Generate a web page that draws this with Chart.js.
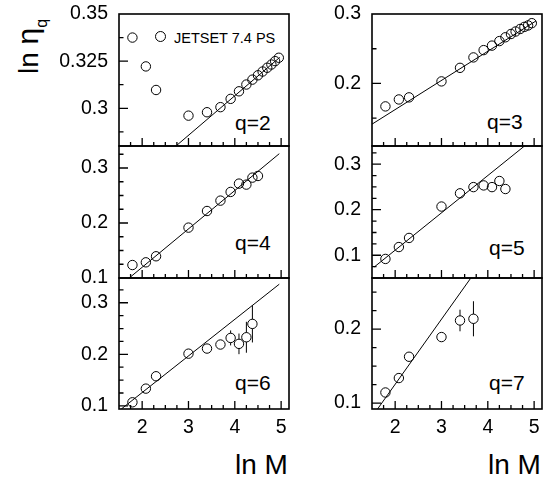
<!DOCTYPE html>
<html>
<head>
<meta charset="utf-8">
<script src="https://cdn.jsdelivr.net/npm/chart.js@4.4.1/dist/chart.umd.min.js"></script>
<style>
  html, body { margin: 0; padding: 0; background: #fff; }
  body { width: 545px; height: 483px; position: relative; overflow: hidden;
         font-family: 'Liberation Sans', Arial, sans-serif; color: #000; }
  .lbl { position: absolute; white-space: nowrap; line-height: 1; }
  .ytitle { position: absolute; left: 13px; top: 74px; white-space: nowrap; line-height: 1;
            font-size: 28px; transform-origin: 0 0; transform: rotate(-90deg); }
  .mark { position: absolute; box-sizing: border-box; border: 1px solid #000; border-radius: 50%; }
</style>
</head>
<body>

<div class="ytitle">ln&nbsp;<span style="font-size:30px">η</span><span style="font-size:16px;position:relative;top:9px">q</span></div>

<div class="mark" style="left:155px;top:31px;width:11.4px;height:11.4px"></div>
<div class="lbl" style="left:174px;top:30.5px;font-size:14.5px">JETSET 7.4 PS</div>

<div class="lbl" style="left:235px;top:111.5px;font-size:21px">q=2</div>
<div class="lbl" style="left:487px;top:110.5px;font-size:21px">q=3</div>
<div class="lbl" style="left:235px;top:232px;font-size:21px">q=4</div>
<div class="lbl" style="left:489px;top:236.5px;font-size:21px">q=5</div>
<div class="lbl" style="left:235px;top:371.5px;font-size:21px">q=6</div>
<div class="lbl" style="left:489px;top:372px;font-size:21px">q=7</div>

<div class="lbl" style="left:235px;top:451px;font-size:28px">ln M</div>
<div class="lbl" style="left:488px;top:451px;font-size:28px">ln M</div>

<script>
// ln M values of the points (same bins in every panel)
const lnM = [1.79, 2.08, 2.30, 3.00, 3.40, 3.69, 3.91, 4.09, 4.25, 4.38, 4.50, 4.60, 4.70, 4.79, 4.87, 4.95];

// ln eta_q per moment order
const etaQ2 = [0.3375, 0.3222, 0.3097, 0.2961, 0.2979, 0.3006, 0.3050, 0.3090, 0.3126, 0.3152, 0.3175, 0.3195, 0.3215, 0.3232, 0.3250, 0.3268];
const etaQ3 = [0.167, 0.177, 0.180, 0.203, 0.2225, 0.2375, 0.248, 0.2545, 0.261, 0.2665, 0.2712, 0.2748, 0.2785, 0.2815, 0.2835, 0.2868];
const etaQ4 = [0.1236, 0.1285, 0.1395, 0.1916, 0.2218, 0.2407, 0.2565, 0.2716, 0.2698, 0.2825, 0.2855];
const etaQ5 = [0.0919, 0.118, 0.138, 0.207, 0.236, 0.2497, 0.2534, 0.2497, 0.2631, 0.2455];
const etaQ6 = [0.107, 0.1335, 0.1575, 0.2013, 0.2112, 0.219, 0.2318, 0.2203, 0.2331, 0.259];
const etaQ7 = [0.1143, 0.1338, 0.1626, 0.1892, 0.2116, 0.2139];

// error bars (only the large ones are visible)
const errQ6 = [0, 0, 0, 0, 0, 0, 0.0145, 0.020, 0.030, 0.036];
const errQ7 = [0, 0, 0, 0, 0.0146, 0.0237];

// straight fit lines, end points
const fitXQ2 = [2.73, 4.97], fitYQ2 = [0.280, 0.327];
const fitXQ3 = [1.49, 5.04], fitYQ3 = [0.141, 0.290];
const fitXQ4 = [1.72, 4.96], fitYQ4 = [0.100, 0.326];
const fitXQ5 = [1.55, 4.78], fitYQ5 = [0.0743, 0.339];
const fitXQ6 = [1.55, 4.96], fitYQ6 = [0.094, 0.336];
const fitXQ7 = [1.62, 3.645], fitYQ7 = [0.092, 0.270];

const xRange = [1.5, 5.17];

const panels = [
    { col: 0, row: 0, y: etaQ2, fx: fitXQ2, fy: fitYQ2, yMin: 0.28, yMax: 0.35, major: 0.025, minor: 0.0125 },
    { col: 1, row: 0, y: etaQ3, fx: fitXQ3, fy: fitYQ3, yMin: 0.11, yMax: 0.30, major: 0.1, minor: 0.05 },
    { col: 0, row: 1, y: etaQ4, fx: fitXQ4, fy: fitYQ4, yMin: 0.10, yMax: 0.34, major: 0.1, minor: 0.025 },
    { col: 1, row: 1, y: etaQ5, fx: fitXQ5, fy: fitYQ5, yMin: 0.05, yMax: 0.34, major: 0.1, minor: 0.025 },
    { col: 0, row: 2, y: etaQ6, fx: fitXQ6, fy: fitYQ6, err: errQ6, yMin: 0.094, yMax: 0.348, major: 0.1, minor: 0.025 },
    { col: 1, row: 2, y: etaQ7, fx: fitXQ7, fy: fitYQ7, err: errQ7, yMin: 0.092, yMax: 0.269, major: 0.1, minor: 0.025 }
];

const FONT = "'Liberation Sans', Arial, sans-serif";
const colLeft = [119, 372];
const rowTop = [14, 146, 278];
const rowBottom = [146, 278, 409];
const AXIS_W = 110, PAD = 12, PLOT_W = 170, XAXIS_H = 30;

const isMajor = (v, step) => Math.abs(v / step - Math.round(v / step)) < 1e-6;

// frame, inward tick marks and error bars
const frameTicks = {
    id: 'frameTicks',
    afterDraw(chart, args, opts) {
        const { ctx, chartArea: a, scales: { x, y } } = chart;
        ctx.save();
        ctx.strokeStyle = '#000';
        ctx.lineWidth = 1.3;
        ctx.beginPath();
        y.ticks.forEach(t => {
            const py = y.getPixelForValue(t.value);
            if (py < a.top + 1 || py > a.bottom - 1) return;
            const len = isMajor(t.value, opts.major) ? 9 : 4.5;
            ctx.moveTo(a.left, py);
            ctx.lineTo(a.left + len, py);
        });
        x.ticks.forEach(t => {
            const px = x.getPixelForValue(t.value);
            if (px < a.left + 1 || px > a.right - 1) return;
            const len = isMajor(t.value, 1) ? 8 : 4;
            ctx.moveTo(px, a.bottom);
            ctx.lineTo(px, a.bottom - len);
        });
        ctx.stroke();

        ctx.lineWidth = 1;
        chart.data.datasets.forEach(ds => {
            if (!ds.errors) return;
            const r = ds.pointRadius;
            ds.data.forEach((p, j) => {
                const e = ds.errors[j];
                if (!e) return;
                const px = x.getPixelForValue(p.x);
                const cy = y.getPixelForValue(p.y);
                const top = y.getPixelForValue(p.y + e);
                const bot = y.getPixelForValue(p.y - e);
                ctx.beginPath();
                ctx.moveTo(px, top);
                ctx.lineTo(px, cy - r);
                ctx.moveTo(px, cy + r);
                ctx.lineTo(px, bot);
                ctx.stroke();
            });
        });

        ctx.lineWidth = 1.6;
        ctx.strokeRect(a.left, a.top, a.right - a.left, a.bottom - a.top);
        ctx.restore();
    }
};

panels.forEach(p => {
    const bottomRow = p.row === 2;
    const plotH = rowBottom[p.row] - rowTop[p.row];
    const w = AXIS_W + PLOT_W + 4;
    const h = PAD + plotH + (bottomRow ? XAXIS_H : PAD);

    const canvas = document.createElement('canvas');
    canvas.width = w;
    canvas.height = h;
    canvas.style.cssText = `position:absolute;left:${colLeft[p.col] - AXIS_W}px;top:${rowTop[p.row] - PAD}px;width:${w}px;height:${h}px`;
    document.body.appendChild(canvas);

    const points = p.y.map((v, i) => ({ x: lnM[i], y: v }));
    const fit = p.fx.map((v, i) => ({ x: v, y: p.fy[i] }));

    new Chart(canvas, {
        type: 'scatter',
        data: {
            datasets: [
                {
                    data: fit,
                    showLine: true,
                    borderColor: '#000',
                    borderWidth: 1,
                    pointRadius: 0,
                    fill: false
                },
                {
                    data: points,
                    showLine: false,
                    pointStyle: 'circle',
                    pointRadius: 4.7,
                    borderWidth: 1,
                    borderColor: '#000',
                    backgroundColor: 'rgba(0,0,0,0)',
                    errors: p.err
                }
            ]
        },
        options: {
            responsive: false,
            animation: false,
            devicePixelRatio: 1,
            events: [],
            layout: { autoPadding: false, padding: { top: PAD, right: 4, bottom: bottomRow ? 0 : PAD, left: 0 } },
            plugins: {
                legend: { display: false },
                tooltip: { enabled: false },
                frameTicks: { major: p.major }
            },
            scales: {
                x: {
                    type: 'linear',
                    min: xRange[0],
                    max: xRange[1],
                    grid: { display: false, drawTicks: false },
                    border: { display: false },
                    ticks: {
                        stepSize: 0.25,
                        includeBounds: false,
                        autoSkip: false,
                        maxRotation: 0,
                        padding: 7,
                        color: '#000',
                        font: { family: FONT, size: 19.5 },
                        callback: v => (bottomRow && isMajor(v, 1)) ? String(Math.round(v)) : ''
                    },
                    afterFit: s => {
                        s.height = bottomRow ? XAXIS_H : 0;
                        s.paddingLeft = 0;
                        s.paddingRight = 0;
                    }
                },
                y: {
                    type: 'linear',
                    min: p.yMin,
                    max: p.yMax,
                    grid: { display: false, drawTicks: false },
                    border: { display: false },
                    ticks: {
                        stepSize: p.minor,
                        includeBounds: false,
                        autoSkip: false,
                        padding: 11,
                        color: '#000',
                        font: { family: FONT, size: 19.5 },
                        callback: v => isMajor(v, p.major) ? String(Number(v.toFixed(4))) : ''
                    },
                    afterFit: s => {
                        s.width = AXIS_W;
                        s.paddingTop = 0;
                        s.paddingBottom = 0;
                    }
                }
            }
        },
        plugins: [frameTicks]
    });
});
</script>
</body>
</html>
